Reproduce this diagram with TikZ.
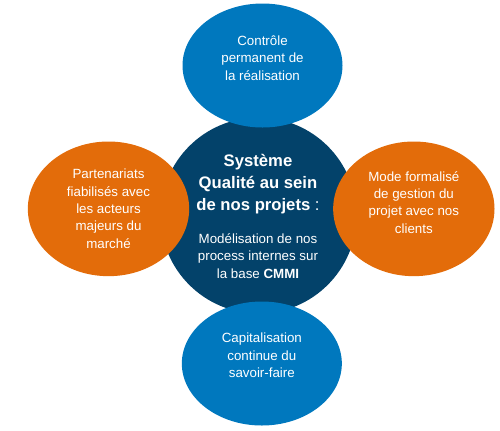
\documentclass[tikz,border=0pt]{standalone}
\usepackage{fontspec}
\setmainfont{Liberation Sans}
\usetikzlibrary{positioning,shapes.geometric}
\definecolor{qblue}{HTML}{0078BE}
\definecolor{qnavy}{HTML}{03426A}
\definecolor{qorange}{HTML}{E36C0A}

\begin{document}
\begin{tikzpicture}[x=0.75pt, y=-0.75pt, node distance=112.5pt]
                \tikzset{blob/.style={shape=ellipse, inner sep=0pt, minimum width=120pt, minimum height=93pt},
                         side/.style={blob, minimum width=121pt, minimum height=101pt, fill=qorange},
                         vert/.style={blob, fill=qblue},
                         txt/.style={text=white, align=center, font=\fontsize{10pt}{13pt}\selectfont}}
                \useasboundingbox (0, 0) rectangle (500, 430);
                \node[shape=circle, fill=qnavy, minimum size=147pt, inner sep=0pt] (sys) at (258.5, 215.5) {};
                \node[vert, above of = sys, xshift=3pt] (ctrl) {};
                \node[vert, below of = sys, xshift=2.5pt, yshift=1.5pt] (capi) {};
                \node[side, left of = sys, yshift=5pt] (part) {};
                \node[side, right of = sys, xshift=4pt, yshift=5pt] (mode) {};
                \node[txt] (ctrl-t) at ([yshift=5.5pt]ctrl) {Contrôle\\permanent de\\la réalisation};
                \node[txt] (capi-t) at ([yshift=6pt]capi) {Capitalisation\\continue du\\savoir-faire};
                \node[txt] (part-t) at (part) {Partenariats\\fiabilisés avec\\les acteurs\\majeurs du\\marché};
                \node[txt] (mode-t) at ([yshift=5pt]mode) {Mode formalisé\\de gestion du\\projet avec nos\\clients};
                \node[txt, font=\bfseries\fontsize{12.5pt}{16.5pt}\selectfont] (sys-t) at (258, 184) {Système\\Qualité au sein\\de nos projets {\mdseries :}};
                \node[txt] (sys-s) at (258, 256) {Modélisation de nos\\process internes sur\\la base \textbf{CMMI}};
            \end{tikzpicture}
\end{document}
